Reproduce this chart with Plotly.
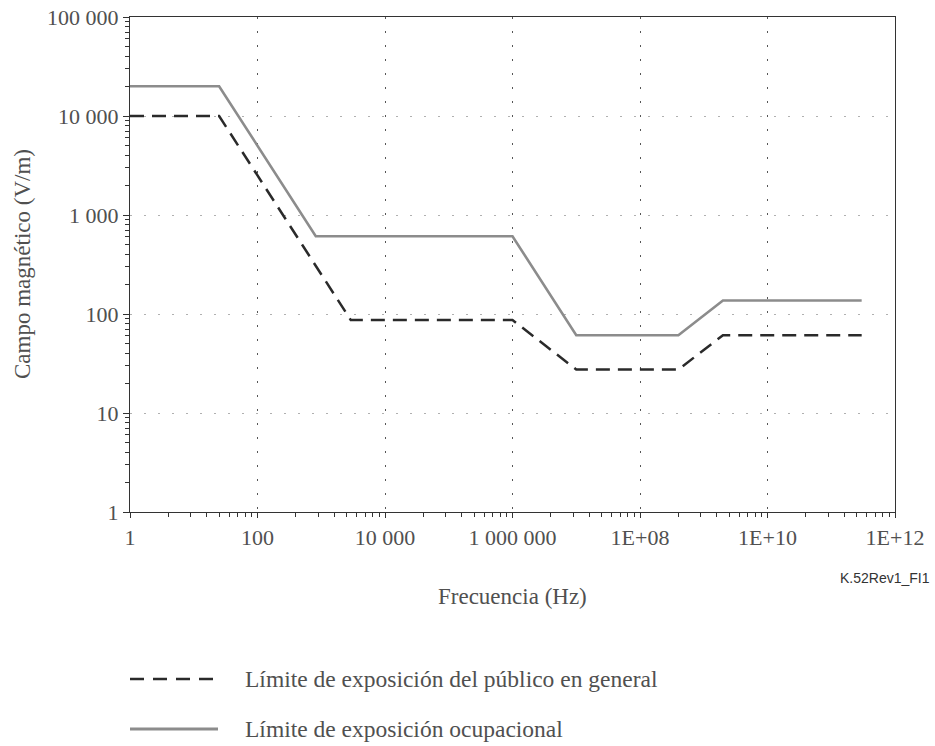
import plotly.graph_objects as go

# Data
freq_public = [1, 25, 2900, 1e6, 1e7, 4e8, 2e9, 3e11]
field_public = [10000, 10000, 87, 87, 27.5, 27.5, 61, 61]
freq_occup = [1, 25, 820, 1e6, 1e7, 4e8, 2e9, 3e11]
field_occup = [20000, 20000, 610, 610, 61, 61, 137, 137]

x_tickvals = [1, 1e2, 1e4, 1e6, 1e8, 1e10, 1e12]
x_ticktext = ["1", "100", "10 000", "1 000 000", "1E+08", "1E+10", "1E+12"]
y_tickvals = [1, 10, 100, 1000, 10000, 100000]
y_ticktext = ["1", "10", "100", "1 000", "10 000", "100 000"]

name_public = "Límite de exposición del público en general"
name_occup = "Límite de exposición ocupacional"

# minor ticks: x axis uses base-100 decades, y axis base-10
x_minor = []
for d in range(0, 12, 2):
    for k in range(2, 10):
        x_minor.append((10 ** d) * k * k)
y_minor = []
for d in range(0, 5):
    for k in range(2, 10):
        y_minor.append((10 ** d) * k)

serif = "Liberation Serif, Times New Roman, serif"
txt_col = "#505050"

W, H = 935, 746
# plot area in page pixels (reference): x 130..895, y 17..512
PX0, PX1, PY0, PY1 = 130, 895, 17, 512
def px(x):
    return (x - PX0) / (PX1 - PX0)
def py(y):
    return (PY1 - y) / (PY1 - PY0)

fig = go.Figure()
fig.add_trace(go.Scatter(x=freq_public, y=field_public, mode="lines",
                         line=dict(color="#2a2a2a", width=2.5, dash="14px,8px"),
                         name=name_public, showlegend=False))
fig.add_trace(go.Scatter(x=freq_occup, y=field_occup, mode="lines",
                         line=dict(color="#8c8c8c", width=2.6),
                         name=name_occup, showlegend=False))

fig.update_xaxes(type="log", range=[0, 12], tickvals=x_tickvals, ticktext=x_ticktext,
                 showline=True, linecolor="#333333", linewidth=1.3, mirror=True,
                 ticks="outside", ticklen=5, tickcolor="#333333",
                 showgrid=True, gridcolor="#555555", griddash="2px,12px", gridwidth=1,
                 minor=dict(tickvals=x_minor, ticks="outside", ticklen=4, tickcolor="#333333", showgrid=False),
                 tickfont=dict(family=serif, size=22, color=txt_col),
                 ticklabelstandoff=0, ticklabeloverflow="allow", automargin=False, zeroline=False)
fig.update_yaxes(type="log", range=[0, 5], tickvals=y_tickvals, ticktext=y_ticktext,
                 showline=True, linecolor="#333333", linewidth=1.3, mirror=True,
                 ticks="outside", ticklen=6, tickcolor="#333333",
                 showgrid=True, gridcolor="#b0b0b0", griddash="2px,12px", gridwidth=1.3,
                 minor=dict(tickvals=y_minor, ticks="outside", ticklen=4, tickcolor="#333333", showgrid=False),
                 tickfont=dict(family=serif, size=22, color=txt_col),
                 ticklabelstandoff=0, ticklabeloverflow="allow", automargin=False, zeroline=False)

annotations = [
    dict(text="Campo magnético (V/m)", x=px(22), y=py(264), xref="paper", yref="paper",
         xanchor="center", yanchor="middle",
         showarrow=False, textangle=-90, font=dict(family=serif, size=23, color=txt_col)),
    dict(text="Frecuencia (Hz)", x=px(512), y=py(596), xref="paper", yref="paper",
         xanchor="center", yanchor="middle",
         showarrow=False, font=dict(family=serif, size=23, color=txt_col)),
    dict(text="K.52Rev1_FI1", x=px(932), y=py(578), xref="paper", yref="paper",
         xanchor="right", yanchor="middle", showarrow=False,
         font=dict(family="Liberation Sans, Arial", size=14, color="#333333")),
    dict(text=name_public, x=px(243), y=py(679), xref="paper", yref="paper",
         xanchor="left", yanchor="middle", showarrow=False,
         font=dict(family=serif, size=23.5, color=txt_col)),
    dict(text=name_occup, x=px(243), y=py(729), xref="paper", yref="paper",
         xanchor="left", yanchor="middle", showarrow=False,
         font=dict(family=serif, size=23.5, color=txt_col)),
]

shapes = [
    dict(type="line", xref="paper", yref="paper", x0=0, x1=px(218),
         y0=py(679), y1=py(679),
         line=dict(color="#2a2a2a", width=2.5, dash="14px,9px")),
    dict(type="line", xref="paper", yref="paper", x0=0, x1=px(218),
         y0=py(729), y1=py(729),
         line=dict(color="#8c8c8c", width=3)),
]

fig.update_layout(width=W, height=H,
                  margin=dict(l=PX0, r=W - PX1, t=PY0, b=H - PY1, autoexpand=False),
                  plot_bgcolor="white", paper_bgcolor="white",
                  annotations=annotations, shapes=shapes, showlegend=False)

fig.write_html("out.html", config={"displayModeBar": False},
               post_script="document.body.style.margin='0px';document.body.style.overflow='hidden';")
